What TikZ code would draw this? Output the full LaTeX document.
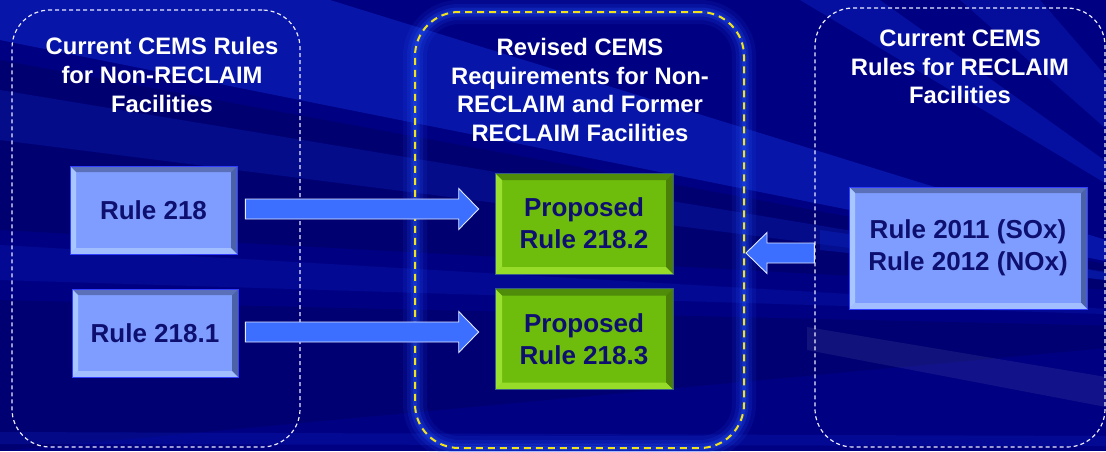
\documentclass[tikz,border=0pt]{standalone}
\usepackage{fontspec}
\setmainfont{Liberation Sans}
\usetikzlibrary{calc}
\definecolor{bgbase}{HTML}{000082}
\definecolor{bgdark}{HTML}{00006A}
\definecolor{bglight}{HTML}{1030D8}
\definecolor{navytext}{HTML}{0E1070}
\definecolor{bluefill}{HTML}{7F9DFF}
\definecolor{bluetop}{HTML}{5A70B8}
\definecolor{blueright}{HTML}{4C62A8}
\definecolor{bluebot}{HTML}{A2BEFF}
\definecolor{blueleft}{HTML}{A8C6FF}
\definecolor{greenfill}{HTML}{6EBC0C}
\definecolor{greentop}{HTML}{4E8C0A}
\definecolor{greenright}{HTML}{4A8008}
\definecolor{greenbot}{HTML}{98DC2A}
\definecolor{greenleft}{HTML}{9AE030}
\definecolor{arrowblue}{HTML}{3C6EFF}
\definecolor{dashyellow}{HTML}{F2E21A}
\definecolor{glowblue}{HTML}{2458FF}
\newcommand\ppbb{path picture bounding box}
\newcommand\bevelpaint[5]{%
  \fill[#2] (\ppbb.north west) -- (\ppbb.north east) -- ([xshift=-#1,yshift=-#1]\ppbb.north east) -- ([xshift=#1,yshift=-#1]\ppbb.north west) -- cycle;
  \fill[#3] (\ppbb.north east) -- (\ppbb.south east) -- ([xshift=-#1,yshift=#1]\ppbb.south east) -- ([xshift=-#1,yshift=-#1]\ppbb.north east) -- cycle;
  \fill[#4] (\ppbb.south east) -- (\ppbb.south west) -- ([xshift=#1,yshift=#1]\ppbb.south west) -- ([xshift=-#1,yshift=#1]\ppbb.south east) -- cycle;
  \fill[#5] (\ppbb.south west) -- (\ppbb.north west) -- ([xshift=#1,yshift=-#1]\ppbb.north west) -- ([xshift=#1,yshift=#1]\ppbb.south west) -- cycle;
}
\newcommand\blockarrowR[2]{% from #1 (shaft start) to #2 (tip), pointing right
  \fill[arrowblue, draw=white!85!arrowblue, line width=0.9pt]
    ($(#1)+(0,-10)$) -- ($(#2)+(-20,-10)$) -- ($(#2)+(-20,-20.5)$) -- (#2)
    -- ($(#2)+(-20,20.5)$) -- ($(#2)+(-20,10)$) -- ($(#1)+(0,10)$) -- cycle;
}
\newcommand\blockarrowL[2]{% from #1 (shaft start) to #2 (tip), pointing left
  \fill[arrowblue, draw=white!85!arrowblue, line width=0.9pt]
    ($(#1)+(0,-10)$) -- ($(#2)+(21,-10)$) -- ($(#2)+(21,-20.5)$) -- (#2)
    -- ($(#2)+(21,20.5)$) -- ($(#2)+(21,10)$) -- ($(#1)+(0,10)$) -- cycle;
}
\tikzset{
  ttl/.style={text=white, align=center, inner sep=0pt,
    font=\bfseries\fontsize{23.8}{28.6}\selectfont},
  boxtxt/.style={text=navytext, align=center, inner sep=0pt,
    font=\bfseries\fontsize{26}{32}\selectfont},
  bluebox/.style={boxtxt, fill=bluefill, draw=blue!60!bluefill, line width=0.6pt,
    path picture={\bevelpaint{6pt}{bluetop}{blueright}{bluebot}{blueleft}}},
  greenbox/.style={boxtxt, fill=greenfill, draw=blue!50!greenfill, line width=0.6pt,
    minimum width=178pt, minimum height=101pt,
    path picture={\bevelpaint{7pt}{greentop}{greenright}{greenbot}{greenleft}}},
  whitedash/.style={draw=white!92!blue, line width=1.2pt, dash pattern=on 4pt off 3pt},
  yellowdash/.style={draw=dashyellow, line width=2pt, dash pattern=on 7pt off 5pt},
  glowline/.style={draw=glowblue, rounded corners=44pt},
}
\begin{document}
\begin{tikzpicture}[x=1pt, y=-1pt]
% background
\fill[bgbase] (0,0) rectangle (1106,451);
\useasboundingbox (0,0) rectangle (1106,451);
\begin{scope}
\clip (0,0) rectangle (1106,451);
\fill[bgdark, opacity=0.7] (0,60) -- (1300,300) -- (0,230) -- cycle;
\fill[bgdark, opacity=0.6] (0,300) -- (1300,330) -- (0,451) -- cycle;
\fill[bglight, opacity=0.45] (0,0) -- (330,0) -- (1300,300) -- (0,40) -- cycle;
\fill[bglight, opacity=0.25] (0,90) -- (1300,305) -- (0,140) -- cycle;
\fill[bglight, opacity=0.2] (0,245) -- (1300,320) -- (0,280) -- cycle;
\fill[white, opacity=0.07] (807,327) -- (1106,377) -- (1106,407) -- (807,350) -- cycle;
\fill[bglight, opacity=0.3] (1300,300) -- (820,230) -- (820,250) -- cycle;
\fill[bglight, opacity=0.35] (800,0) -- (880,0) -- (1300,300) -- cycle;
\fill[bglight, opacity=0.3] (960,0) -- (1040,0) -- (1300,300) -- cycle;
\fill[bglight, opacity=0.25] (1106,40) -- (1106,110) -- (1300,300) -- cycle;
\fill[bglight, opacity=0.2] (0,432) -- (1106,436) -- (1106,446) -- (0,444) -- cycle;
\end{scope}

% containers
\node[whitedash, rounded corners=38pt, minimum width=288pt, minimum height=437pt, inner sep=0pt] (leftc) at (156,228.5) {};
\draw[glowline, opacity=0.10, line width=24pt] (415,12) rectangle (744,448);
\draw[glowline, opacity=0.15, line width=16pt] (415,12) rectangle (744,448);
\draw[glowline, opacity=0.22, line width=9pt] (415,12) rectangle (744,448);
\draw[glowline, opacity=0.25, line width=4pt] (415,12) rectangle (744,448);
\node[yellowdash, rounded corners=44pt, minimum width=329pt, minimum height=436pt, inner sep=0pt] (midc) at (579.5,230) {};
\node[whitedash, rounded corners=38pt, minimum width=290pt, minimum height=439pt, inner sep=0pt] (rightc) at (960,227.5) {};

% titles
\node[ttl] (lt) at (162,75) {Current CEMS Rules\\for Non-RECLAIM\\Facilities};
\node[ttl] (mt) at (580,90) {Revised CEMS\\Requirements for Non-\\RECLAIM and Former\\RECLAIM Facilities};
\node[ttl] (rt) at (960,67) {Current CEMS\\Rules for RECLAIM\\Facilities};

% boxes
\node[bluebox, minimum width=167pt, minimum height=88pt] (r218) at (153.5,210) {Rule 218};
\node[bluebox, minimum width=166pt, minimum height=88pt] (r2181) at (155,333) {Rule 218.1};
\node[greenbox] (p2182) at (584,223.5) {Proposed\\Rule 218.2};
\node[greenbox] (p2183) at (584,339) {Proposed\\Rule 218.3};
\node[bluebox, minimum width=238pt, minimum height=122pt] (r2011) at (968,248) {Rule 2011 (SOx)\\Rule 2012 (NOx)};

% connectors
\coordinate (a1s) at ([xshift=8pt, yshift=1pt]r218.east);
\coordinate (a1e) at ($(a1s -| p2182.west)+(-16,0)$);
\blockarrowR{a1s}{a1e}
\coordinate (a2s) at ([xshift=7pt, yshift=1pt]r2181.east);
\coordinate (a2e) at ($(a2s -| p2183.west)+(-16,0)$);
\blockarrowR{a2s}{a2e}
\coordinate (a3s) at ([yshift=-5pt]r2011.west -| rightc.west);
\coordinate (a3e) at ($(a3s -| midc.east)+(1,0)$);
\blockarrowL{a3s}{a3e}
\end{tikzpicture}
\end{document}
